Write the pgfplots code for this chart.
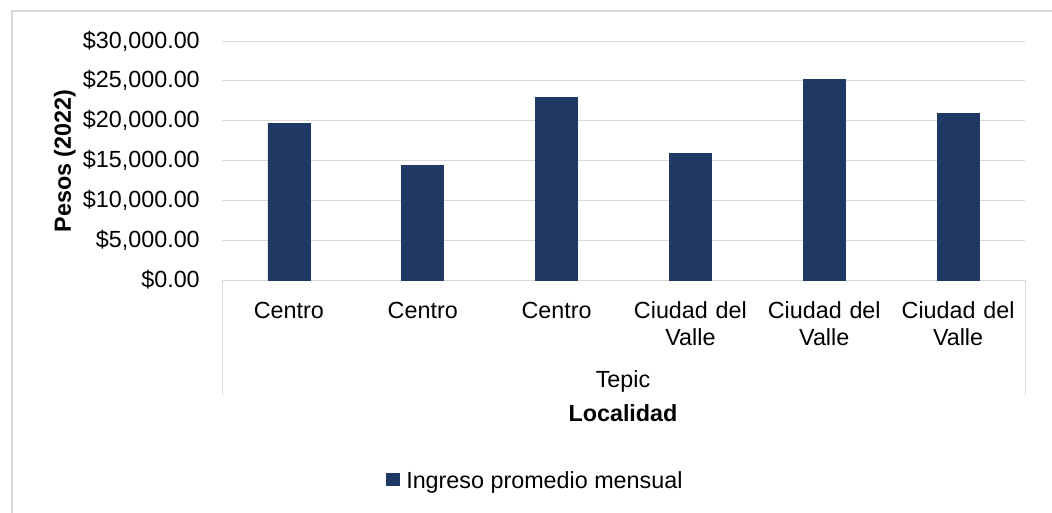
\documentclass[border=0pt]{standalone}
\usepackage{pgfplots}
\pgfplotsset{compat=1.18}
\usepackage{fontspec}
\setmainfont{Liberation Sans}
\definecolor{barblue}{HTML}{203864}
\definecolor{gridgray}{HTML}{D9D9D9}
\newcommand\cf{\fontsize{17.5pt}{20.25pt}\selectfont}
\begin{document}
\begin{tikzpicture}
\begin{axis}[
  at={(0,0)}, anchor=south west,
  scale only axis, width=602.25pt, height=179.25pt,
  xmin=-0.5, xmax=5.5, ymin=0, ymax=30000,
  scaled ticks=false,
  axis line style={draw=none},
  major tick length=0pt,
  ybar, bar width=31.5pt,
  xtick={0,1,2,3,4,5},
  xticklabels={Centro,Centro,Centro,{Ciudad del\\Valle},{Ciudad del\\Valle},{Ciudad del\\Valle}},
  xticklabel style={font=\cf, align=center, text width=100pt, anchor=base, inner sep=0pt, yshift=-28.5pt},
  ytick={0,5000,10000,15000,20000,25000,30000},
  yticklabels={{\$0.00},{\$5,000.00},{\$10,000.00},{\$15,000.00},{\$20,000.00},{\$25,000.00},{\$30,000.00}},
  yticklabel style={font=\cf, anchor=east, inner sep=0pt, xshift=-16.5pt},
  ymajorgrids, major grid style={gridgray, line width=0.75pt},
  clip=false,
]
\addplot[fill=barblue, draw=barblue] coordinates {(0,19700) (1,14400) (2,22900) (3,15900) (4,25200) (5,20900)};
\end{axis}
\begin{scope}[x=0.75pt, y=-0.75pt, shift={(-166.5pt,210pt)}]
  \draw[gridgray, line width=0.75pt] (222,280) -- (222,395);
  \draw[gridgray, line width=0.75pt] (1025,280) -- (1025,395);
  \draw[gridgray, line width=1pt] (1070,11) -- (12,11) -- (12,530);
  \node[rotate=90, anchor=base, font=\cf\bfseries, inner sep=0pt] at (71,161) {Pesos (2022)};
  \node[anchor=base, font=\cf, inner sep=0pt] at (623,387) {Tepic};
  \node[anchor=base, font=\cf\bfseries, inner sep=0pt] at (623,421) {Localidad};
  \fill[barblue] (386,473) rectangle (400,486);
  \node[anchor=base west, font=\cf, inner sep=0pt] at (406,488) {Ingreso promedio mensual};
  \pgfresetboundingbox
  \useasboundingbox (0,0) rectangle (1052,512);
\end{scope}
\end{tikzpicture}
\end{document}
